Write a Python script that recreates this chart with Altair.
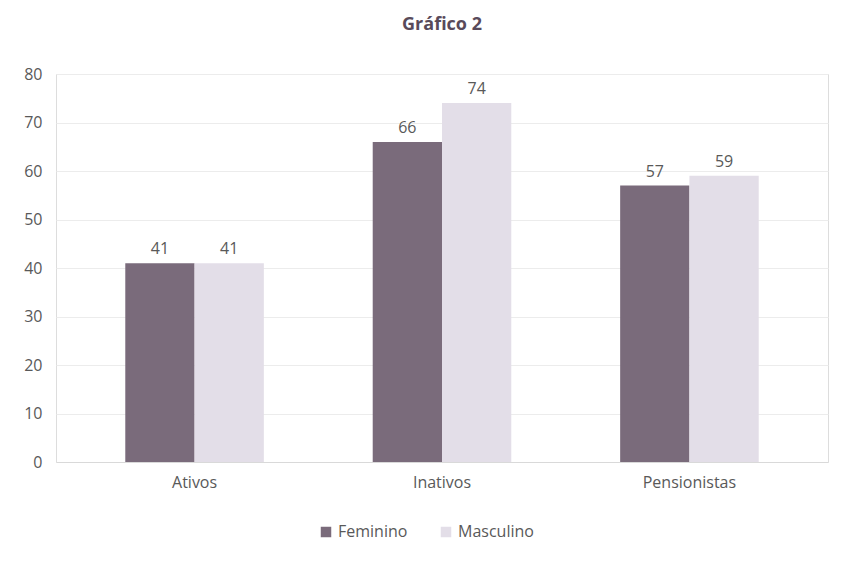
import altair as alt
import pandas as pd

categories = ["Ativos", "Inativos", "Pensionistas"]
feminino = [41, 66, 57]
masculino = [41, 74, 59]
series = ["Feminino", "Masculino"]
colors = ["#7a6b7b", "#e3dee8"]

rows = []
for c, f, m in zip(categories, feminino, masculino):
    rows.append({"cat": c, "sexo": "Feminino", "v": f})
    rows.append({"cat": c, "sexo": "Masculino", "v": m})
df = pd.DataFrame(rows)

base = alt.Chart(df).encode(
    x=alt.X("cat:N", sort=categories, title=None,
            scale=alt.Scale(paddingInner=0.44, paddingOuter=0.28),
            axis=alt.Axis(labelAngle=0, labelFontSize=16, labelColor="#595959",
                          labelPadding=12, ticks=False, domainColor="#d9d9d9",
                          labelFont="Open Sans")),
    xOffset=alt.XOffset("sexo:N", sort=series, scale=alt.Scale(paddingInner=0.0)),
)

bars = base.mark_bar().encode(
    y=alt.Y("v:Q", title=None, scale=alt.Scale(domain=[0, 80]),
            axis=alt.Axis(values=[0, 10, 20, 30, 40, 50, 60, 70, 80], labelFontSize=16,
                          labelColor="#595959", gridColor="#ececec", domain=False,
                          ticks=False, labelPadding=14, labelFont="Open Sans")),
    color=alt.Color("sexo:N", sort=series, title=None,
                    scale=alt.Scale(domain=series, range=colors),
                    legend=alt.Legend(orient="none", legendX=262, legendY=450,
                                      direction="horizontal",
                                      symbolType="square", symbolSize=110,
                                      labelFontSize=16, labelColor="#595959",
                                      labelFont="Open Sans", columnPadding=30)),
)

labels = base.mark_text(dy=-14, fontSize=16, color="#595959", font="Open Sans").encode(
    y="v:Q", text="v:Q"
)

chart = (bars + labels).properties(
    width=772, height=388,
    title=alt.TitleParams("Gráfico 2", fontSize=18, color="#594a5a", font="Open Sans",
                          fontWeight="bold", offset=32, anchor="middle"),
).configure_view(stroke=None).configure(padding={"left": 15, "top": 8, "right": 5, "bottom": 5})

chart.save("out.html", embed_options={"renderer": "svg", "actions": False})
